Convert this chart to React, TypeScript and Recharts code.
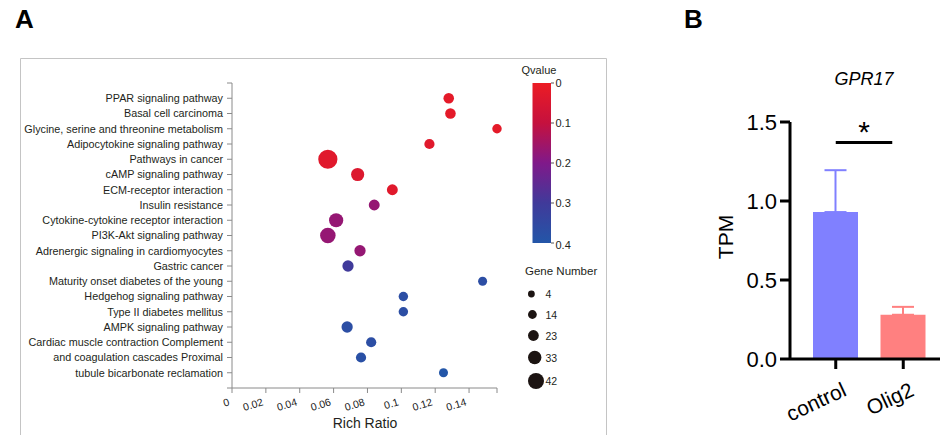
import React from 'react'
import {
  ScatterChart,
  Scatter,
  XAxis,
  YAxis,
  ZAxis,
  Cell,
  BarChart,
  Bar,
  ErrorBar,
  ReferenceLine,
} from 'recharts'

// panel A: KEGG enrichment bubbles (top row first)
const pathways = [
  'PPAR signaling pathway',
  'Basal cell carcinoma',
  'Glycine, serine and threonine metabolism',
  'Adipocytokine signaling pathway',
  'Pathways in cancer',
  'cAMP signaling pathway',
  'ECM-receptor interaction',
  'Insulin resistance',
  'Cytokine-cytokine receptor interaction',
  'PI3K-Akt signaling pathway',
  'Adrenergic signaling in cardiomyocytes',
  'Gastric cancer',
  'Maturity onset diabetes of the young',
  'Hedgehog signaling pathway',
  'Type II diabetes mellitus',
  'AMPK signaling pathway',
  'Cardiac muscle contraction Complement',
  'and coagulation cascades Proximal',
  'tubule bicarbonate reclamation',
]
const richRatio = [
  0.128, 0.129, 0.1565, 0.1166, 0.0566, 0.0742, 0.0947, 0.084, 0.0615, 0.0566,
  0.0756, 0.0685, 0.148, 0.1012, 0.1012, 0.068, 0.0822, 0.0762, 0.1249,
]
const qValue = [
  0.02, 0.02, 0.02, 0.03, 0.03, 0.04, 0.03, 0.17, 0.17, 0.17,
  0.17, 0.3, 0.37, 0.37, 0.37, 0.37, 0.37, 0.38, 0.4,
]
const geneNumber = [8, 8, 5, 7, 42, 16, 9, 9, 20, 25, 10, 10, 4, 5, 5, 10, 7, 7, 4]
const richTicks = [0, 0.02, 0.04, 0.06, 0.08, 0.1, 0.12, 0.14]
const qTicks = [0, 0.1, 0.2, 0.3, 0.4]
const geneLegend = [4, 14, 23, 33, 42]

// panel B: GPR17 expression
const groups = ['control', 'Olig2']
const tpmMean = [0.93, 0.28]
const tpmSem = [0.265, 0.05]
const tpmTicks = [0, 0.5, 1, 1.5]
const sigLevel = 1.37

const FONT = '"Liberation Sans", Arial, sans-serif'
const qStops = ['#ec1c24', '#c5113e', '#80198a', '#403a9a', '#2356a8']

function hexToRgb(h: string) {
  return [1, 3, 5].map((i) => parseInt(h.slice(i, i + 2), 16))
}

function qColor(q: number) {
  const t = Math.min(Math.max(q / 0.4, 0), 1) * (qStops.length - 1)
  const i = Math.min(Math.floor(t), qStops.length - 2)
  const f = t - i
  const a = hexToRgb(qStops[i])
  const b = hexToRgb(qStops[i + 1])
  const c = a.map((v, k) => Math.round(v + (b[k] - v) * f))
  return `rgb(${c[0]},${c[1]},${c[2]})`
}

const bubbles = pathways.map((name, i) => ({
  name,
  x: richRatio[i],
  y: i + 1,
  z: geneNumber[i],
  q: qValue[i],
}))
const xMax = Math.max(...richRatio)
const rowTicks = Array.from({ length: pathways.length + 2 }, (_, i) => i)

const barData = groups.map((g, i) => ({
  group: g,
  control: g === 'control' ? tpmMean[i] : 0,
  controlErr: g === 'control' ? [0, tpmSem[i]] : undefined,
  olig2: g === 'Olig2' ? tpmMean[i] : 0,
  olig2Err: g === 'Olig2' ? [0, tpmSem[i]] : undefined,
}))

function PathwayTick({ x, y, payload }: any) {
  return (
    <text x={x} y={y} dy={3.8} textAnchor="end" fontSize={10.8} fill="#231f20" fontFamily={FONT}>
      {pathways[payload.value - 1] ?? ''}
    </text>
  )
}

function RichTick({ x, y, payload }: any) {
  const label = richTicks.includes(payload.value) ? String(payload.value) : ''
  const ax = x - 2
  const ay = y + 10
  return (
    <text x={ax} y={ay} textAnchor="end" transform={`rotate(-17 ${ax} ${ay})`} fontSize={10.5} fill="#1a1a1a" fontFamily={FONT}>
      {label}
    </text>
  )
}

function GroupTick({ x, y, payload }: any) {
  const ax = x + 12
  const ay = y + 24
  return (
    <text x={ax} y={ay} textAnchor="end" transform={`rotate(-25 ${ax} ${ay})`} fontSize={21} fill="#000" fontFamily={FONT}>
      {payload.value}
    </text>
  )
}

function SigBar(p: any) {
  const x2 = p.x2 - 11
  const mid = (p.x1 + x2) / 2
  return (
    <g>
      <line x1={p.x1} y1={p.y1} x2={x2} y2={p.y2} stroke="#000" strokeWidth={3} />
      <text x={mid} y={p.y1 - 1} textAnchor="middle" fontSize={30} fontFamily={FONT}>
        *
      </text>
    </g>
  )
}

function Overlay() {
  const legendR = [3.4, 4.4, 5.4, 6.7, 8]
  const legendY = [294, 314.5, 335.5, 357.5, 381]
  return (
    <svg width={944} height={435} style={{ position: 'absolute', left: 0, top: 0 }} fontFamily={FONT}>
      <defs>
        <linearGradient id="qgrad" x1="0" y1="0" x2="0" y2="1">
          {qStops.map((c, i) => (
            <stop key={i} offset={`${(i / (qStops.length - 1)) * 100}%`} stopColor={c} />
          ))}
        </linearGradient>
      </defs>
      <text x={15} y={28} fontSize={26} fontWeight="bold" fill="#000">A</text>
      <text x={684} y={28} fontSize={26} fontWeight="bold" fill="#000">B</text>
      <path d="M20.5,436 V58.5 H606.5 V436" fill="none" stroke="#c4c4c4" strokeWidth={1} />

      <text x={539} y={74} textAnchor="middle" fontSize={11} fill="#231f20">Qvalue</text>
      <rect x={532.5} y={83} width={18.5} height={160} fill="url(#qgrad)" />
      {qTicks.map((q) => {
        const ty = 83 + (q / 0.4) * 160
        return (
          <g key={q}>
            <line x1={551} x2={554} y1={ty} y2={ty} stroke="#555" />
            <text x={555.5} y={ty + (q === 0.4 ? 6 : 4)} fontSize={11} fill="#231f20">{String(q)}</text>
          </g>
        )
      })}

      <text x={525} y={275} fontSize={11.5} fill="#231f20">Gene Number</text>
      {geneLegend.map((g, i) => (
        <g key={g}>
          <circle cx={528 + legendR[i]} cy={legendY[i]} r={legendR[i]} fill="#1c1412" />
          <text x={545.5} y={legendY[i] + 4} fontSize={10.5} fill="#231f20">{g}</text>
        </g>
      ))}

      <text x={365} y={428} textAnchor="middle" fontSize={14} fill="#231f20">Rich Ratio</text>
      <text x={733} y={237} textAnchor="middle" fontSize={21} fill="#000" transform="rotate(-90 733 237)">TPM</text>
      <text x={864} y={85} textAnchor="middle" fontSize={18} fontStyle="italic" fill="#000">GPR17</text>
    </svg>
  )
}

export default function App() {
  return (
    <div style={{ position: 'absolute', left: 0, top: 0, width: 944, height: 435, background: '#fff', fontFamily: FONT }}>
      <Overlay />
      <div style={{ position: 'absolute', left: 0, top: 0 }}>
        <ScatterChart width={620} height={435} margin={{ top: 83, right: 123, bottom: 17, left: 20 }}>
          <XAxis
            type="number"
            dataKey="x"
            domain={[0, xMax]}
            ticks={[...richTicks, xMax]}
            interval={0}
            height={30}
            tickSize={5}
            stroke="#8a8a8a"
            tick={<RichTick />}
          />
          <YAxis
            type="number"
            dataKey="y"
            domain={[0, pathways.length + 1]}
            ticks={rowTicks}
            interval={0}
            reversed
            width={212}
            tickSize={5}
            tickMargin={4}
            stroke="#8a8a8a"
            tick={<PathwayTick />}
          />
          <ZAxis type="number" dataKey="z" domain={[4, 42]} range={[64, 290]} />
          <Scatter data={bubbles} isAnimationActive={false}>
            {bubbles.map((b, i) => (
              <Cell key={i} fill={qColor(b.q)} />
            ))}
          </Scatter>
        </ScatterChart>
      </div>
      <div style={{ position: 'absolute', left: 680, top: 0 }}>
        <BarChart width={264} height={435} data={barData} margin={{ top: 122, right: 4, bottom: 16, left: 0 }}>
          <XAxis
            dataKey="group"
            height={60}
            padding={{ left: 12, right: 3 }}
            tickSize={10}
            axisLine={{ stroke: '#000', strokeWidth: 3 }}
            tickLine={{ stroke: '#000', strokeWidth: 3 }}
            tick={<GroupTick />}
          />
          <YAxis
            domain={[0, 1.5]}
            ticks={tpmTicks}
            interval={0}
            width={110}
            tickSize={10}
            tickMargin={3}
            tickFormatter={(v) => Number(v).toFixed(1)}
            axisLine={{ stroke: '#000', strokeWidth: 3 }}
            tickLine={{ stroke: '#000', strokeWidth: 3 }}
            tick={{ fontSize: 22, fill: '#000', fontFamily: FONT }}
          />
          <Bar dataKey="control" stackId="s" fill="#8080ff" barSize={45} isAnimationActive={false}>
            <ErrorBar dataKey="controlErr" direction="y" width={11} strokeWidth={2} stroke="#8080ff" />
          </Bar>
          <Bar dataKey="olig2" stackId="s" fill="#ff8080" barSize={45} isAnimationActive={false}>
            <ErrorBar dataKey="olig2Err" direction="y" width={11} strokeWidth={2} stroke="#ff8080" />
          </Bar>
          <ReferenceLine
            segment={[
              { x: 'control', y: sigLevel },
              { x: 'Olig2', y: sigLevel },
            ]}
            shape={SigBar}
          />
        </BarChart>
      </div>
    </div>
  )
}
